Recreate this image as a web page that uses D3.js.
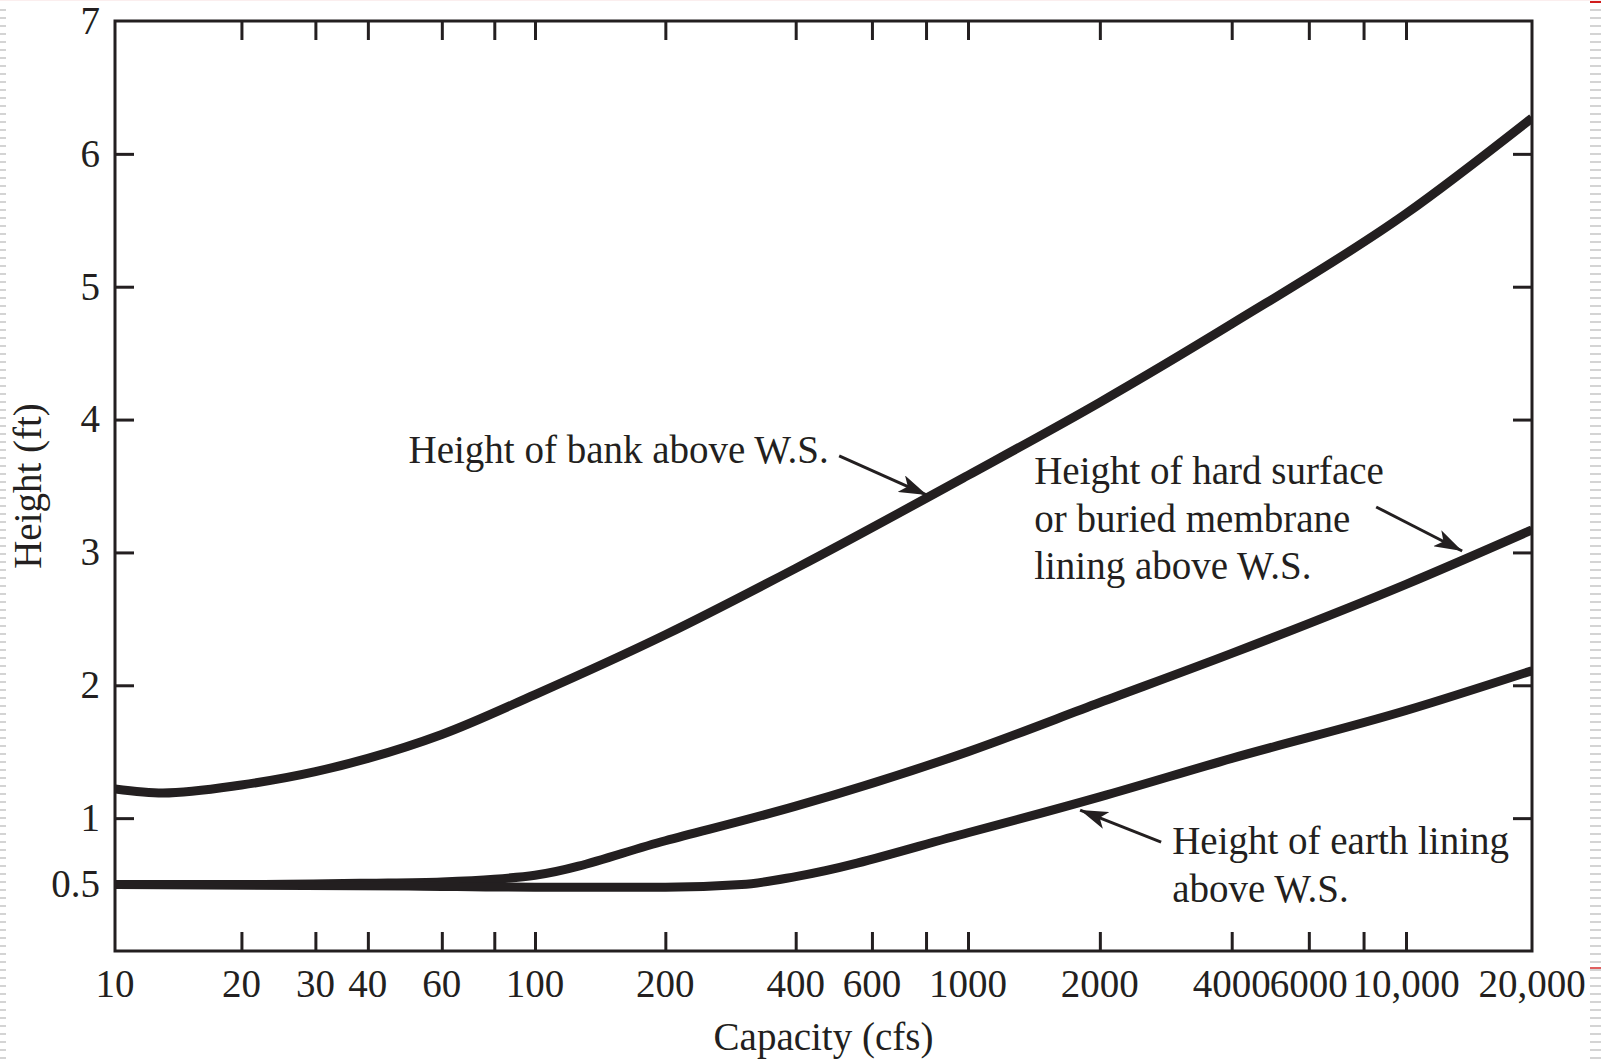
<!DOCTYPE html>
<html>
<head>
<meta charset="utf-8">
<script src="https://cdn.jsdelivr.net/npm/d3@7"></script>
<style>
  html, body { margin: 0; padding: 0; background: #fff; }
  svg { display: block; }
  text { font-family: "Liberation Serif", "DejaVu Serif", serif; fill: #231f20; }
</style>
</head>
<body>
<svg id="chart" width="1601" height="1063"></svg>
<script>
(function() {

    var W = 1601,
        H = 1063,
        left = 115,   // plot left
        right = 1532, // plot right
        top = 21,     // plot top
        bottom = 951, // plot bottom
        ink = '#231f20',
        fs = 39,      // font size
        tk = 19;      // tick length (inward)

    // capacity (cfs) vs height (ft)
    var bankQ = [10, 13, 20, 30, 40, 60, 100, 200, 400, 1000, 2000, 4000, 10000, 20000];
    var bankH = [1.22, 1.19, 1.25, 1.35, 1.45, 1.63, 1.93, 2.38, 2.88, 3.58, 4.13, 4.72, 5.55, 6.27];

    var hardQ = [10, 20, 40, 60, 80, 100, 200, 400, 1000, 2000, 4000, 10000, 20000];
    var hardH = [0.5, 0.5, 0.51, 0.52, 0.54, 0.57, 0.83, 1.09, 1.5, 1.87, 2.24, 2.76, 3.17];

    var earthQ = [10, 50, 100, 200, 300, 400, 1000, 2000, 4000, 10000, 20000];
    var earthH = [0.5, 0.49, 0.48, 0.48, 0.5, 0.56, 0.89, 1.16, 1.45, 1.81, 2.11];

    var xTicks = [20, 30, 40, 60, 80, 100, 200, 400, 600, 800, 1000, 2000, 4000, 6000, 8000, 10000];
    var xLabels = [10, 20, 30, 40, 60, 100, 200, 400, 600, 1000, 2000, 4000, 6000, 10000, 20000];
    var yTicks = [1, 2, 3, 4, 5, 6];
    var yLabels = [0.5, 1, 2, 3, 4, 5, 6, 7];

    // annotations: text lines, text anchor point, arrow tail and tip (data coords)
    var notes = [
        { lines: ['Height of bank above W.S.'], anchor: 'end', at: [477, 3.67],
          from: [504, 3.726], to: [804, 3.432] },
        { lines: ['Height of hard surface', 'or buried membrane', 'lining above W.S.'], anchor: 'start', at: [1416, 3.515],
          from: [8550, 3.342], to: [13620, 3.011] },
        { lines: ['Height of earth lining', 'above W.S.'], anchor: 'start', at: [2925, 0.73],
          from: [2760, 0.82], to: [1803, 1.061] }
    ];

    // the printed log axis is slightly uneven from decade to decade
    var x = d3.scaleLog().domain([10, 100, 1000, 10000, 20000]).range([left, 535, 968, 1406, right]);
    var y = d3.scaleLinear().domain([0, 7]).range([bottom, top]);

    var svg = d3.select('#chart');

    // scan-edge artefacts of the source page
    var dashes = d3.range(9, H, 8);
    svg.append('g').selectAll('rect').data(dashes).enter().append('rect')
        .attr('x', 0).attr('y', function(d) { return d; })
        .attr('width', 6).attr('height', 2).attr('fill', '#d4d4d4');
    svg.append('g').selectAll('rect').data(dashes).enter().append('rect')
        .attr('x', 1590).attr('y', function(d) { return d; })
        .attr('width', 11).attr('height', 2).attr('fill', '#d4d4d4');
    svg.append('rect').attr('x', 0).attr('y', 0).attr('width', W).attr('height', 1).attr('fill', '#fbeeee');
    svg.append('rect').attr('x', 1590).attr('y', 1).attr('width', 11).attr('height', 2).attr('fill', '#d01c1c');
    svg.append('rect').attr('x', 1590).attr('y', 967).attr('width', 11).attr('height', 2).attr('fill', '#e06060');

    svg.append('defs').append('clipPath').attr('id', 'plot')
        .append('rect').attr('x', left).attr('y', top)
        .attr('width', right - left).attr('height', bottom - top);

    svg.append('defs').append('marker')
        .attr('id', 'head')
        .attr('viewBox', '0 0 28 18')
        .attr('refX', 28).attr('refY', 9)
        .attr('markerWidth', 28).attr('markerHeight', 18)
        .attr('markerUnits', 'userSpaceOnUse')
        .attr('orient', 'auto')
        .append('path')
        .attr('d', 'M0,0 L28,9 L0,18 L7,9 Z')
        .attr('fill', ink);

    // curves
    var line = d3.line()
        .x(function(d) { return x(d[0]); })
        .y(function(d) { return y(d[1]); })
        .curve(d3.curveMonotoneX);

    var series = [d3.zip(bankQ, bankH), d3.zip(hardQ, hardH), d3.zip(earthQ, earthH)];

    svg.append('g').attr('clip-path', 'url(#plot)')
        .selectAll('path')
        .data(series)
        .enter()
        .append('path')
        .attr('d', line)
        .attr('fill', 'none')
        .attr('stroke', ink)
        .attr('stroke-width', 9);

    // axes: inward ticks on all four sides
    var gx = svg.append('g');
    gx.append('g').attr('transform', 'translate(0,' + bottom + ')')
        .call(d3.axisTop(x).tickValues(xTicks).tickSize(tk).tickFormat(''));
    gx.append('g').attr('transform', 'translate(0,' + top + ')')
        .call(d3.axisBottom(x).tickValues(xTicks).tickSize(tk).tickFormat(''));
    gx.append('g').attr('transform', 'translate(' + left + ',0)')
        .call(d3.axisRight(y).tickValues(yTicks).tickSize(tk).tickFormat(''));
    gx.append('g').attr('transform', 'translate(' + right + ',0)')
        .call(d3.axisLeft(y).tickValues(yTicks).tickSize(tk).tickFormat(''));
    gx.selectAll('.domain').remove();
    gx.selectAll('line').attr('stroke', ink).attr('stroke-width', 3);

    svg.append('rect')
        .attr('x', left).attr('y', top)
        .attr('width', right - left).attr('height', bottom - top)
        .attr('fill', 'none').attr('stroke', ink).attr('stroke-width', 3);

    // tick labels
    var fmt = function(d) { return d >= 10000 ? d3.format(',')(d) : String(d); };
    svg.append('g').selectAll('text').data(xLabels).enter().append('text')
        .attr('x', function(d) { return x(d); })
        .attr('y', 997)
        .attr('text-anchor', 'middle')
        .attr('font-size', fs)
        .text(fmt);

    svg.append('g').selectAll('text').data(yLabels).enter().append('text')
        .attr('x', 100)
        .attr('y', function(d) { return y(d); })
        .attr('dy', '0.33em')
        .attr('text-anchor', 'end')
        .attr('font-size', fs)
        .text(String);

    // axis titles
    svg.append('text')
        .attr('x', (left + right) / 2).attr('y', 1050)
        .attr('text-anchor', 'middle').attr('font-size', fs)
        .text('Capacity (cfs)');

    svg.append('text')
        .attr('transform', 'translate(41,' + ((top + bottom) / 2) + ') rotate(-90)')
        .attr('text-anchor', 'middle').attr('font-size', fs)
        .text('Height (ft)');

    // annotations
    notes.forEach(function(n) {
        var t = svg.append('text')
            .attr('x', x(n.at[0])).attr('y', y(n.at[1]))
            .attr('text-anchor', n.anchor).attr('font-size', fs);
        n.lines.forEach(function(s, i) {
            t.append('tspan').attr('x', x(n.at[0])).attr('dy', i ? 47.5 : 0).text(s);
        });
        svg.append('line')
            .attr('x1', x(n.from[0])).attr('y1', y(n.from[1]))
            .attr('x2', x(n.to[0])).attr('y2', y(n.to[1]))
            .attr('stroke', ink).attr('stroke-width', 3)
            .attr('marker-end', 'url(#head)');
    });

})();
</script>
</body>
</html>
